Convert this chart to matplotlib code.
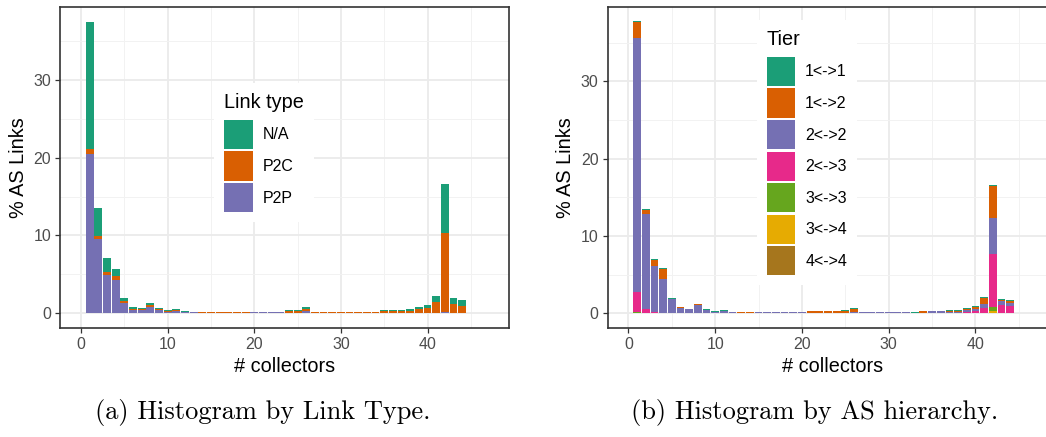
import matplotlib
matplotlib.use("Agg")
import matplotlib.pyplot as plt
from matplotlib.patches import Patch
import numpy as np

plt.rcParams['font.family'] = ['Liberation Sans', 'DejaVu Sans']

# ---------------- data ----------------
collectors = list(range(1, 45))

# Panel (a): link type (stack bottom -> top: P2P, P2C, N/A)
link_types = ["N/A", "P2C", "P2P"]
p2p = [20.5, 9.6, 4.85, 4.3, 1.3, 0.45, 0.35, 0.85, 0.4, 0.1,
       0.3, 0.13, 0.1, 0.0, 0.0, 0.0, 0.0, 0.0, 0.0, 0.12,
       0.12, 0.12, 0.12, 0.0, 0.0, 0.3, 0.0, 0.0, 0.0, 0.0,
       0.0, 0.0, 0.0, 0.0, 0.0, 0.0, 0.0, 0.0, 0.0, 0.0,
       0.0, 0.1, 0.0, 0.0]
p2c = [0.6, 0.3, 0.5, 0.5, 0.3, 0.1, 0.15, 0.2, 0.1, 0.15,
       0.05, 0.0, 0.0, 0.12, 0.12, 0.12, 0.12, 0.12, 0.12, 0.0,
       0.0, 0.0, 0.0, 0.22, 0.22, 0.2, 0.12, 0.12, 0.12, 0.12,
       0.12, 0.12, 0.12, 0.12, 0.3, 0.3, 0.3, 0.26, 0.5, 0.6,
       1.37, 10.2, 1.12, 0.86]
na = [16.4, 3.6, 1.7, 0.9, 0.4, 0.2, 0.1, 0.2, 0.1, 0.1,
      0.15, 0.08, 0.1, 0.08, 0.08, 0.08, 0.08, 0.08, 0.08, 0.08,
      0.08, 0.08, 0.08, 0.12, 0.12, 0.23, 0.08, 0.08, 0.08, 0.08,
      0.08, 0.08, 0.08, 0.08, 0.04, 0.04, 0.04, 0.21, 0.23, 0.39,
      0.78, 6.3, 0.77, 0.77]

# Panel (b): tier (stack bottom -> top: 4<->4 ... 1<->1)
tiers = ["1<->1", "1<->2", "2<->2", "2<->3", "3<->3", "3<->4", "4<->4"]
t44 = [0.0] * 41 + [0.03, 0.0, 0.0]
t34 = [0.0] * 41 + [0.3, 0.0, 0.08]
t33 = [0.2, 0.1, 0.0, 0.0, 0.0, 0.0, 0.0, 0.0, 0.0, 0.0,
       0.0, 0.0, 0.0, 0.0, 0.0, 0.0, 0.0, 0.0, 0.0, 0.0,
       0.0, 0.0, 0.0, 0.0, 0.0, 0.0, 0.0, 0.0, 0.0, 0.0,
       0.0, 0.0, 0.0, 0.0, 0.0, 0.0, 0.0, 0.0, 0.0, 0.04,
       0.09, 0.52, 0.07, 0.0]
t23 = [2.6, 0.45, 0.2, 0.1, 0.1, 0.0, 0.0, 0.0, 0.05, 0.0,
       0.0, 0.0, 0.0, 0.0, 0.0, 0.0, 0.0, 0.0, 0.0, 0.0,
       0.0, 0.0, 0.0, 0.0, 0.0, 0.0, 0.0, 0.0, 0.05, 0.05,
       0.05, 0.05, 0.0, 0.1, 0.1, 0.05, 0.1, 0.1, 0.17, 0.3,
       0.6, 6.85, 1.0, 0.87]
t22 = [32.8, 12.35, 5.9, 4.3, 1.75, 0.7, 0.5, 1.05, 0.35, 0.17,
       0.3, 0.13, 0.0, 0.0, 0.12, 0.12, 0.12, 0.12, 0.12, 0.12,
       0.0, 0.0, 0.0, 0.0, 0.0, 0.2, 0.12, 0.12, 0.07, 0.07,
       0.07, 0.07, 0.1, 0.0, 0.2, 0.2, 0.1, 0.1, 0.26, 0.22,
       0.51, 4.65, 0.52, 0.39]
t12 = [2.1, 0.5, 0.8, 1.3, 0.0, 0.15, 0.0, 0.15, 0.0, 0.0,
       0.0, 0.0, 0.2, 0.2, 0.0, 0.0, 0.0, 0.0, 0.0, 0.0,
       0.3, 0.3, 0.3, 0.3, 0.3, 0.36, 0.0, 0.0, 0.0, 0.0,
       0.0, 0.0, 0.0, 0.2, 0.0, 0.0, 0.1, 0.1, 0.13, 0.26,
       0.8, 4.15, 0.13, 0.26]
t11 = [0.13, 0.1, 0.1, 0.15, 0.15, 0.0, 0.1, 0.0, 0.15, 0.13,
       0.13, 0.08, 0.0, 0.0, 0.08, 0.08, 0.08, 0.08, 0.08, 0.08,
       0.0, 0.0, 0.0, 0.0, 0.13, 0.13, 0.08, 0.08, 0.08, 0.08,
       0.08, 0.08, 0.08, 0.0, 0.0, 0.1, 0.13, 0.13, 0.13, 0.13,
       0.1, 0.13, 0.13, 0.12]

x_ticks = [0, 10, 20, 30, 40]
y_ticks = [0, 10, 20, 30]

dark2 = ["#1B9E77", "#D95F02", "#7570B3", "#E7298A", "#66A61E", "#E6AB02", "#A6761D"]

# ---------------- figure ----------------
W, H = 1046, 437
fig = plt.figure(figsize=(W / 100, H / 100), dpi=100)


def px_axes(x0, y0, x1, y1):
    return fig.add_axes([x0 / W, 1 - y1 / H, (x1 - x0) / W, (y1 - y0) / H])


def style(ax, ylim):
    ax.set_xlim(-2.39, 49.4)
    ax.set_ylim(*ylim)
    ax.set_xticks(x_ticks)
    ax.set_yticks(y_ticks)
    ax.set_xticks([5, 15, 25, 35, 45], minor=True)
    ax.set_yticks([5, 15, 25, 35], minor=True)
    ax.grid(True, which="major", color="#EBEBEB", linewidth=1.3)
    ax.grid(True, which="minor", color="#F2F2F2", linewidth=0.7)
    ax.set_axisbelow(True)
    for s in ax.spines.values():
        s.set_color("#333333")
        s.set_linewidth(1.2)
    ax.tick_params(which="major", length=3.6, width=0.9, color="#333333",
                   labelsize=11.5, labelcolor="#4D4D4D", pad=3)
    ax.tick_params(which="minor", length=0)
    ax.set_xlabel("# collectors", fontsize=14.3, labelpad=4)
    ax.set_ylabel("% AS Links", fontsize=14.3, labelpad=4)


def make_legend(ax, handles, labels, title, anchor_px):
    leg = ax.legend(handles, labels, title=title, loc="upper left",
                    bbox_to_anchor=(anchor_px[0] / W, 1 - anchor_px[1] / H),
                    bbox_transform=fig.transFigure,
                    fontsize=11.5, title_fontsize=14.3, frameon=True, fancybox=False,
                    handlelength=1.8, handleheight=2.42, labelspacing=0.16,
                    handletextpad=0.62, borderpad=0.6, alignment="left")
    fr = leg.get_frame()
    fr.set_facecolor("white")
    fr.set_edgecolor("none")
    fr.set_alpha(1)
    leg._legend_box.sep = 6
    return leg


x = np.array(collectors)

# Panel (a)
axa = px_axes(60.3, 7.3, 509, 327.7)
bottom = np.zeros(len(x))
for vals, col in [(p2p, dark2[2]), (p2c, dark2[1]), (na, dark2[0])]:
    v = np.array(vals)
    axa.bar(x, v, width=0.9, bottom=bottom, color=col, linewidth=0)
    bottom += v
style(axa, (-1.88, 39.4))
handles_a = [Patch(facecolor=dark2[i], edgecolor="none") for i in range(3)]
make_legend(axa, handles_a, link_types, "Link type", (206.5, 75))

# Panel (b)
axb = px_axes(607.7, 7.3, 1057, 327.7)
bottom = np.zeros(len(x))
stack_b = [(t44, dark2[6]), (t34, dark2[5]), (t33, dark2[4]), (t23, dark2[3]),
           (t22, dark2[2]), (t12, dark2[1]), (t11, dark2[0])]
for vals, col in stack_b:
    v = np.array(vals)
    axb.bar(x, v, width=0.9, bottom=bottom, color=col, linewidth=0)
    bottom += v
style(axb, (-1.86, 39.6))
handles_b = [Patch(facecolor=dark2[i], edgecolor="none") for i in range(7)]
make_legend(axb, handles_b, tiers, "Tier", (749, 12))

# Captions
fig.text(263 / W, 1 - 412 / H, "(a) Histogram by Link Type.", ha="center", va="center",
         fontsize=19, family="cmr10")
fig.text(815 / W, 1 - 412 / H, "(b) Histogram by AS hierarchy.", ha="center", va="center",
         fontsize=19, family="cmr10")

fig.savefig("out.png", dpi=100)
